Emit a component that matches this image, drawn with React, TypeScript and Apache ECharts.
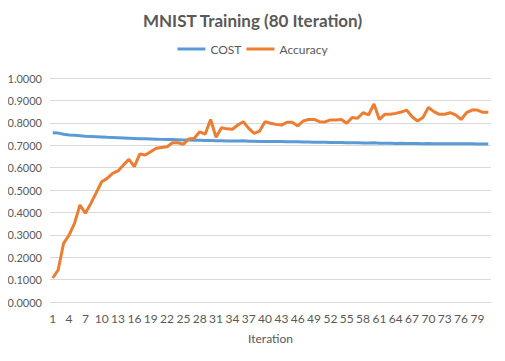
import React, { useEffect, useRef } from "react";
import * as echarts from "echarts";

const iterations: string[] = Array.from({ length: 81 }, (_, i) => String(i + 1));

const cost: number[] = [
  0.756, 0.754, 0.749, 0.746, 0.744, 0.742, 0.740, 0.739, 0.738, 0.737,
  0.735, 0.734, 0.733, 0.732, 0.731, 0.730, 0.729, 0.729, 0.728, 0.727,
  0.726, 0.725, 0.725, 0.724, 0.723, 0.723, 0.722, 0.722, 0.721, 0.721,
  0.720, 0.720, 0.719, 0.719, 0.719, 0.720, 0.718, 0.718, 0.717, 0.717,
  0.716, 0.716, 0.716, 0.715, 0.715, 0.715, 0.714, 0.714, 0.713, 0.713,
  0.713, 0.712, 0.712, 0.712, 0.711, 0.711, 0.711, 0.710, 0.710, 0.711,
  0.709, 0.709, 0.709, 0.708, 0.709, 0.708, 0.708, 0.708, 0.707, 0.708,
  0.707, 0.707, 0.707, 0.706, 0.707, 0.706, 0.706, 0.706, 0.705, 0.705,
  0.705,
];

const accuracy: number[] = [
  0.107, 0.143, 0.262, 0.299, 0.351, 0.433, 0.396, 0.440, 0.488, 0.537,
  0.552, 0.574, 0.585, 0.612, 0.637, 0.604, 0.661, 0.656, 0.671, 0.686,
  0.690, 0.693, 0.711, 0.711, 0.704, 0.728, 0.731, 0.760, 0.749, 0.815,
  0.735, 0.778, 0.773, 0.771, 0.790, 0.805, 0.775, 0.753, 0.763, 0.805,
  0.798, 0.793, 0.790, 0.802, 0.802, 0.786, 0.808, 0.815, 0.815, 0.805,
  0.804, 0.813, 0.813, 0.815, 0.798, 0.824, 0.820, 0.845, 0.835, 0.884,
  0.815, 0.838, 0.838, 0.842, 0.848, 0.857, 0.827, 0.808, 0.824, 0.869,
  0.850, 0.838, 0.838, 0.845, 0.835, 0.815, 0.845, 0.857, 0.857, 0.847,
  0.847,
];

const FONT = "Lato, 'Open Sans', sans-serif";

export default function App() {
  const ref = useRef<HTMLDivElement>(null);
  useEffect(() => {
    if (!ref.current) return;
    const chart = echarts.init(ref.current, undefined, { renderer: "svg" });
    chart.setOption({
      animation: false,
      backgroundColor: "#ffffff",
      title: {
        text: "MNIST Training (80 Iteration)",
        left: "center",
        top: 7,
        textStyle: { fontFamily: FONT, fontSize: 17, fontWeight: "bold", color: "#595959" },
      },
      legend: {
        top: 38,
        left: "center",
        icon: "rect",
        itemWidth: 28,
        itemHeight: 3,
        itemGap: 5,
        textStyle: { fontFamily: FONT, fontSize: 12, color: "#595959" },
        data: ["COST", "Accuracy"],
      },
      grid: { left: 50, right: 14, top: 78, bottom: 59 },
      xAxis: {
        type: "category",
        data: iterations,
        boundaryGap: true,
        name: "Iteration",
        nameLocation: "middle",
        nameGap: 30,
        nameTextStyle: { fontFamily: FONT, fontSize: 12, color: "#595959" },
        axisLine: { lineStyle: { color: "#d9d9d9" } },
        axisTick: { show: false },
        axisLabel: { interval: 2, fontFamily: FONT, fontSize: 12, color: "#595959", margin: 10 },
      },
      yAxis: {
        type: "value",
        min: 0,
        max: 1,
        interval: 0.1,
        axisLine: { show: false },
        axisTick: { show: false },
        splitLine: { lineStyle: { color: "#d9d9d9" } },
        axisLabel: {
          fontFamily: FONT,
          fontSize: 11,
          color: "#595959",
          margin: 8,
          formatter: (v: number) => v.toFixed(4),
        },
      },
      series: [
        {
          name: "COST",
          type: "line",
          data: cost,
          symbol: "none",
          lineStyle: { width: 3, color: "#5b9bd5" },
          itemStyle: { color: "#5b9bd5" },
        },
        {
          name: "Accuracy",
          type: "line",
          data: accuracy,
          symbol: "none",
          lineStyle: { width: 3, color: "#ed7d31" },
          itemStyle: { color: "#ed7d31" },
        },
      ],
    });
    return () => chart.dispose();
  }, []);
  return <div ref={ref} style={{ width: 505, height: 361, margin: -8 }} />;
}
